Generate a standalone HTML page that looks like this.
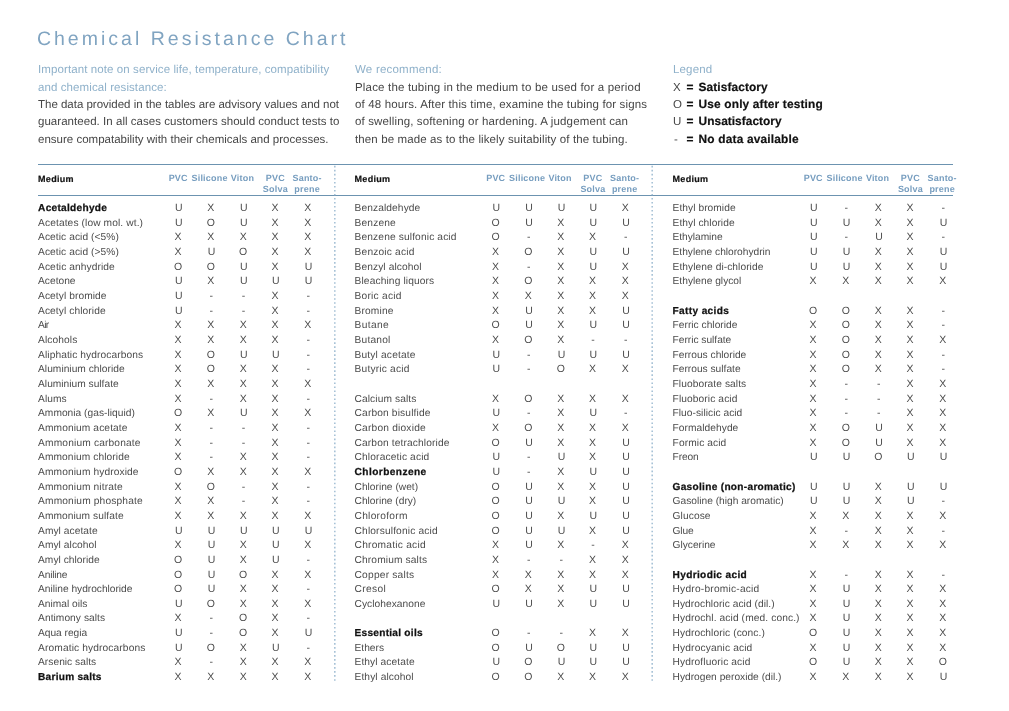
<!DOCTYPE html>
<html lang="en">
<head>
<meta charset="utf-8">
<title>Chemical Resistance Chart</title>
<style>
html,body{margin:0;padding:0;background:#fff;}
body{width:1009px;height:711px;position:relative;overflow:hidden;font-family:"Liberation Sans",Arial,Helvetica,sans-serif;color:#333;text-rendering:geometricPrecision;}
.a{position:absolute;white-space:nowrap;line-height:1;margin:0;padding:0;}
h1.a{font-weight:400;font-size:19.5px;color:#80a4c1;}
.p{font-size:11.5px;line-height:17.4px;color:#464646;}
.bl{color:#8fb1ca;}
.p b{font-weight:700;color:#111;-webkit-text-stroke:0.2px #111;}
.hl{position:absolute;left:38px;width:914.6px;height:1px;background:#6c93b0;}
.th{font-size:9.0px;font-weight:700;color:#769dbf;text-align:center;transform:translateX(-50%);line-height:11px;}
.md{font-size:9.0px;font-weight:700;color:#111;-webkit-text-stroke:0.2px #111;}
.r{font-size:10.2px;color:#4c4c4c;}
.rb{font-size:10.1px;font-weight:700;color:#111;-webkit-text-stroke:0.25px #111;}
.v{font-size:10.5px;color:#4e4e4e;transform:translateX(-50%);text-align:center;}
</style>
</head>
<body>
<h1 class="a" style="left:36.91px;top:30px;letter-spacing:3.011px">Chemical Resistance Chart</h1>
<div class="a p bl" style="left:38.00px;top:62px;font-size:11.5px;letter-spacing:0.096px">Important note on service life, temperature, compatibility</div>
<div class="a p bl" style="left:38.00px;top:80px;font-size:11.5px;letter-spacing:0.091px">and chemical resistance:</div>
<div class="a p " style="left:38.00px;top:97px;font-size:11.5px;letter-spacing:-0.012px">The data provided in the tables are advisory values and not</div>
<div class="a p " style="left:38.00px;top:114px;font-size:11.5px;letter-spacing:0.040px">guaranteed. In all cases customers should conduct tests to</div>
<div class="a p " style="left:38.00px;top:132px;font-size:11.5px;letter-spacing:0.006px">ensure compatability with their chemicals and processes.</div>
<div class="a p bl" style="left:355.00px;top:62px;font-size:11.5px;letter-spacing:0.216px">We recommend:</div>
<div class="a p " style="left:355.00px;top:80px;font-size:11.5px;letter-spacing:0.177px">Place the tubing in the medium to be used for a period</div>
<div class="a p " style="left:355.00px;top:97px;font-size:11.5px;letter-spacing:0.144px">of 48 hours. After this time, examine the tubing for signs</div>
<div class="a p " style="left:355.00px;top:114px;font-size:11.5px;letter-spacing:0.137px">of swelling, softening or hardening. A judgement can</div>
<div class="a p " style="left:355.00px;top:132px;font-size:11.5px;letter-spacing:0.112px">then be made as to the likely suitability of the tubing.</div>
<div class="a p bl" style="left:673.00px;top:62px;font-size:11.5px;letter-spacing:0.153px">Legend</div>
<div class="a p " style="left:673.00px;top:80px;font-size:11.5px;letter-spacing:0.000px">X</div><div class="a p " style="left:686.60px;top:79px;font-size:11.9px;letter-spacing:0.000px"><b>=</b></div><div class="a p " style="left:698.60px;top:79px;font-size:11.9px;letter-spacing:0.085px"><b>Satisfactory</b></div>
<div class="a p " style="left:673.00px;top:97px;font-size:11.5px;letter-spacing:0.000px">O</div><div class="a p " style="left:686.60px;top:96px;font-size:11.9px;letter-spacing:0.000px"><b>=</b></div><div class="a p " style="left:698.60px;top:96px;font-size:11.9px;letter-spacing:0.151px"><b>Use only after testing</b></div>
<div class="a p " style="left:673.00px;top:114px;font-size:11.5px;letter-spacing:0.000px">U</div><div class="a p " style="left:686.60px;top:113px;font-size:11.9px;letter-spacing:0.000px"><b>=</b></div><div class="a p " style="left:698.60px;top:113px;font-size:11.9px;letter-spacing:0.030px"><b>Unsatisfactory</b></div>
<div class="a p " style="left:674.00px;top:132px;font-size:11.5px;letter-spacing:0.000px">-</div><div class="a p " style="left:686.60px;top:131px;font-size:11.9px;letter-spacing:0.000px"><b>=</b></div><div class="a p " style="left:698.60px;top:131px;font-size:11.9px;letter-spacing:0.180px"><b>No data available</b></div>
<div class="hl" style="top:164px"></div><div class="hl" style="top:194.5px"></div>
<svg class="a" style="left:0;top:0" width="1009" height="711" viewBox="0 0 1009 711"><g stroke="#8aaec9" stroke-width="1.2" stroke-dasharray="1.6 2.41" fill="none"><line x1="334.85" y1="165.85" x2="334.85" y2="681.2"/><line x1="652.15" y1="165.85" x2="652.15" y2="681.2"/></g></svg>
<div class="a md" style="left:38.05px;top:175px;letter-spacing:0.291px">Medium</div><div class="a th" style="left:178.20px;top:173px;letter-spacing:0.200px">PVC</div><div class="a th" style="left:209.55px;top:173px;letter-spacing:0.200px">Silicone</div><div class="a th" style="left:242.50px;top:173px;letter-spacing:0.200px">Viton</div><div class="a th" style="left:275.37px;top:173px;letter-spacing:0.200px">PVC<br>Solva</div><div class="a th" style="left:307.10px;top:173px;letter-spacing:0.200px">Santo-<br>prene</div>
<div class="a md" style="left:354.55px;top:175px;letter-spacing:0.291px">Medium</div><div class="a th" style="left:495.75px;top:173px;letter-spacing:0.200px">PVC</div><div class="a th" style="left:527.10px;top:173px;letter-spacing:0.200px">Silicone</div><div class="a th" style="left:560.05px;top:173px;letter-spacing:0.200px">Viton</div><div class="a th" style="left:592.92px;top:173px;letter-spacing:0.200px">PVC<br>Solva</div><div class="a th" style="left:624.65px;top:173px;letter-spacing:0.200px">Santo-<br>prene</div>
<div class="a md" style="left:672.55px;top:175px;letter-spacing:0.291px">Medium</div><div class="a th" style="left:813.25px;top:173px;letter-spacing:0.200px">PVC</div><div class="a th" style="left:844.60px;top:173px;letter-spacing:0.200px">Silicone</div><div class="a th" style="left:877.55px;top:173px;letter-spacing:0.200px">Viton</div><div class="a th" style="left:910.42px;top:173px;letter-spacing:0.200px">PVC<br>Solva</div><div class="a th" style="left:942.15px;top:173px;letter-spacing:0.200px">Santo-<br>prene</div>
<div class="a rb" style="left:38.05px;top:204px;letter-spacing:0.297px">Acetaldehyde</div><div class="a v" style="left:178.70px;top:203px">U</div><div class="a v" style="left:210.75px;top:203px">X</div><div class="a v" style="left:243.90px;top:203px">U</div><div class="a v" style="left:275.07px;top:203px">X</div><div class="a v" style="left:307.80px;top:203px">X</div>
<div class="a r" style="left:38.05px;top:219px;letter-spacing:0.113px">Acetates (low mol. wt.)</div><div class="a v" style="left:178.70px;top:218px">U</div><div class="a v" style="left:210.75px;top:218px">O</div><div class="a v" style="left:243.90px;top:218px">U</div><div class="a v" style="left:275.07px;top:218px">X</div><div class="a v" style="left:307.80px;top:218px">X</div>
<div class="a r" style="left:38.05px;top:233px;letter-spacing:0.077px">Acetic acid (&lt;5%)</div><div class="a v" style="left:178.00px;top:232px">X</div><div class="a v" style="left:210.75px;top:232px">X</div><div class="a v" style="left:243.20px;top:232px">X</div><div class="a v" style="left:275.07px;top:232px">X</div><div class="a v" style="left:307.80px;top:232px">X</div>
<div class="a r" style="left:38.05px;top:248px;letter-spacing:0.077px">Acetic acid (&gt;5%)</div><div class="a v" style="left:178.00px;top:247px">X</div><div class="a v" style="left:211.45px;top:247px">U</div><div class="a v" style="left:243.20px;top:247px">O</div><div class="a v" style="left:275.07px;top:247px">X</div><div class="a v" style="left:307.80px;top:247px">X</div>
<div class="a r" style="left:38.05px;top:263px;letter-spacing:0.093px">Acetic anhydride</div><div class="a v" style="left:178.00px;top:262px">O</div><div class="a v" style="left:210.75px;top:262px">O</div><div class="a v" style="left:243.90px;top:262px">U</div><div class="a v" style="left:275.07px;top:262px">X</div><div class="a v" style="left:308.50px;top:262px">U</div>
<div class="a r" style="left:38.05px;top:277px;letter-spacing:0.012px">Acetone</div><div class="a v" style="left:178.70px;top:276px">U</div><div class="a v" style="left:210.75px;top:276px">X</div><div class="a v" style="left:243.90px;top:276px">U</div><div class="a v" style="left:275.77px;top:276px">U</div><div class="a v" style="left:308.50px;top:276px">U</div>
<div class="a r" style="left:38.05px;top:292px;letter-spacing:0.080px">Acetyl bromide</div><div class="a v" style="left:178.70px;top:291px">U</div><div class="a v" style="left:211.15px;top:291px">-</div><div class="a v" style="left:243.60px;top:291px">-</div><div class="a v" style="left:275.07px;top:291px">X</div><div class="a v" style="left:308.20px;top:291px">-</div>
<div class="a r" style="left:38.05px;top:307px;letter-spacing:0.091px">Acetyl chloride</div><div class="a v" style="left:178.70px;top:306px">U</div><div class="a v" style="left:211.15px;top:306px">-</div><div class="a v" style="left:243.60px;top:306px">-</div><div class="a v" style="left:275.07px;top:306px">X</div><div class="a v" style="left:308.20px;top:306px">-</div>
<div class="a r" style="left:38.05px;top:321px;letter-spacing:-0.623px">Air</div><div class="a v" style="left:178.00px;top:320px">X</div><div class="a v" style="left:210.75px;top:320px">X</div><div class="a v" style="left:243.20px;top:320px">X</div><div class="a v" style="left:275.07px;top:320px">X</div><div class="a v" style="left:307.80px;top:320px">X</div>
<div class="a r" style="left:38.05px;top:336px;letter-spacing:0.109px">Alcohols</div><div class="a v" style="left:178.00px;top:335px">X</div><div class="a v" style="left:210.75px;top:335px">X</div><div class="a v" style="left:243.20px;top:335px">X</div><div class="a v" style="left:275.07px;top:335px">X</div><div class="a v" style="left:308.20px;top:335px">-</div>
<div class="a r" style="left:38.05px;top:351px;letter-spacing:0.092px">Aliphatic hydrocarbons</div><div class="a v" style="left:178.00px;top:350px">X</div><div class="a v" style="left:210.75px;top:350px">O</div><div class="a v" style="left:243.90px;top:350px">U</div><div class="a v" style="left:275.77px;top:350px">U</div><div class="a v" style="left:308.20px;top:350px">-</div>
<div class="a r" style="left:38.05px;top:365px;letter-spacing:0.031px">Aluminium chloride</div><div class="a v" style="left:178.00px;top:364px">X</div><div class="a v" style="left:210.75px;top:364px">O</div><div class="a v" style="left:243.20px;top:364px">X</div><div class="a v" style="left:275.07px;top:364px">X</div><div class="a v" style="left:308.20px;top:364px">-</div>
<div class="a r" style="left:38.05px;top:380px;letter-spacing:0.013px">Aluminium sulfate</div><div class="a v" style="left:178.00px;top:379px">X</div><div class="a v" style="left:210.75px;top:379px">X</div><div class="a v" style="left:243.20px;top:379px">X</div><div class="a v" style="left:275.07px;top:379px">X</div><div class="a v" style="left:307.80px;top:379px">X</div>
<div class="a r" style="left:38.05px;top:395px;letter-spacing:0.045px">Alums</div><div class="a v" style="left:178.00px;top:394px">X</div><div class="a v" style="left:211.15px;top:394px">-</div><div class="a v" style="left:243.20px;top:394px">X</div><div class="a v" style="left:275.07px;top:394px">X</div><div class="a v" style="left:308.20px;top:394px">-</div>
<div class="a r" style="left:38.05px;top:409px;letter-spacing:0.027px">Ammonia (gas-liquid)</div><div class="a v" style="left:178.00px;top:408px">O</div><div class="a v" style="left:210.75px;top:408px">X</div><div class="a v" style="left:243.90px;top:408px">U</div><div class="a v" style="left:275.07px;top:408px">X</div><div class="a v" style="left:307.80px;top:408px">X</div>
<div class="a r" style="left:38.05px;top:424px;letter-spacing:0.109px">Ammonium acetate</div><div class="a v" style="left:178.00px;top:423px">X</div><div class="a v" style="left:211.15px;top:423px">-</div><div class="a v" style="left:243.60px;top:423px">-</div><div class="a v" style="left:275.07px;top:423px">X</div><div class="a v" style="left:308.20px;top:423px">-</div>
<div class="a r" style="left:38.05px;top:439px;letter-spacing:0.166px">Ammonium carbonate</div><div class="a v" style="left:178.00px;top:438px">X</div><div class="a v" style="left:211.15px;top:438px">-</div><div class="a v" style="left:243.60px;top:438px">-</div><div class="a v" style="left:275.07px;top:438px">X</div><div class="a v" style="left:308.20px;top:438px">-</div>
<div class="a r" style="left:38.05px;top:453px;letter-spacing:0.098px">Ammonium chloride</div><div class="a v" style="left:178.00px;top:452px">X</div><div class="a v" style="left:211.15px;top:452px">-</div><div class="a v" style="left:243.20px;top:452px">X</div><div class="a v" style="left:275.07px;top:452px">X</div><div class="a v" style="left:308.20px;top:452px">-</div>
<div class="a r" style="left:38.05px;top:468px;letter-spacing:0.115px">Ammonium hydroxide</div><div class="a v" style="left:178.00px;top:467px">O</div><div class="a v" style="left:210.75px;top:467px">X</div><div class="a v" style="left:243.20px;top:467px">X</div><div class="a v" style="left:275.07px;top:467px">X</div><div class="a v" style="left:307.80px;top:467px">X</div>
<div class="a r" style="left:38.05px;top:483px;letter-spacing:0.123px">Ammonium nitrate</div><div class="a v" style="left:178.00px;top:482px">X</div><div class="a v" style="left:210.75px;top:482px">O</div><div class="a v" style="left:243.60px;top:482px">-</div><div class="a v" style="left:275.07px;top:482px">X</div><div class="a v" style="left:308.20px;top:482px">-</div>
<div class="a r" style="left:38.05px;top:497px;letter-spacing:0.156px">Ammonium phosphate</div><div class="a v" style="left:178.00px;top:496px">X</div><div class="a v" style="left:210.75px;top:496px">X</div><div class="a v" style="left:243.60px;top:496px">-</div><div class="a v" style="left:275.07px;top:496px">X</div><div class="a v" style="left:308.20px;top:496px">-</div>
<div class="a r" style="left:38.05px;top:512px;letter-spacing:0.076px">Ammonium sulfate</div><div class="a v" style="left:178.00px;top:511px">X</div><div class="a v" style="left:210.75px;top:511px">X</div><div class="a v" style="left:243.20px;top:511px">X</div><div class="a v" style="left:275.07px;top:511px">X</div><div class="a v" style="left:307.80px;top:511px">X</div>
<div class="a r" style="left:38.05px;top:527px;letter-spacing:0.058px">Amyl acetate</div><div class="a v" style="left:178.70px;top:526px">U</div><div class="a v" style="left:211.45px;top:526px">U</div><div class="a v" style="left:243.90px;top:526px">U</div><div class="a v" style="left:275.77px;top:526px">U</div><div class="a v" style="left:308.50px;top:526px">U</div>
<div class="a r" style="left:38.05px;top:541px;letter-spacing:0.064px">Amyl alcohol</div><div class="a v" style="left:178.00px;top:540px">X</div><div class="a v" style="left:211.45px;top:540px">U</div><div class="a v" style="left:243.20px;top:540px">X</div><div class="a v" style="left:275.77px;top:540px">U</div><div class="a v" style="left:307.80px;top:540px">X</div>
<div class="a r" style="left:38.05px;top:556px;letter-spacing:0.032px">Amyl chloride</div><div class="a v" style="left:178.00px;top:555px">O</div><div class="a v" style="left:211.45px;top:555px">U</div><div class="a v" style="left:243.20px;top:555px">X</div><div class="a v" style="left:275.77px;top:555px">U</div><div class="a v" style="left:308.20px;top:555px">-</div>
<div class="a r" style="left:38.05px;top:571px;letter-spacing:-0.186px">Aniline</div><div class="a v" style="left:178.00px;top:570px">O</div><div class="a v" style="left:211.45px;top:570px">U</div><div class="a v" style="left:243.20px;top:570px">O</div><div class="a v" style="left:275.07px;top:570px">X</div><div class="a v" style="left:307.80px;top:570px">X</div>
<div class="a r" style="left:38.05px;top:585px;letter-spacing:-0.009px">Aniline hydrochloride</div><div class="a v" style="left:178.00px;top:584px">O</div><div class="a v" style="left:211.45px;top:584px">U</div><div class="a v" style="left:243.20px;top:584px">X</div><div class="a v" style="left:275.07px;top:584px">X</div><div class="a v" style="left:308.20px;top:584px">-</div>
<div class="a r" style="left:38.05px;top:600px;letter-spacing:0.000px">Animal oils</div><div class="a v" style="left:178.70px;top:599px">U</div><div class="a v" style="left:210.75px;top:599px">O</div><div class="a v" style="left:243.20px;top:599px">X</div><div class="a v" style="left:275.07px;top:599px">X</div><div class="a v" style="left:307.80px;top:599px">X</div>
<div class="a r" style="left:38.05px;top:614px;letter-spacing:0.061px">Antimony salts</div><div class="a v" style="left:178.00px;top:613px">X</div><div class="a v" style="left:211.15px;top:613px">-</div><div class="a v" style="left:243.20px;top:613px">O</div><div class="a v" style="left:275.07px;top:613px">X</div><div class="a v" style="left:308.20px;top:613px">-</div>
<div class="a r" style="left:38.05px;top:629px;letter-spacing:-0.021px">Aqua regia</div><div class="a v" style="left:178.70px;top:628px">U</div><div class="a v" style="left:211.15px;top:628px">-</div><div class="a v" style="left:243.20px;top:628px">O</div><div class="a v" style="left:275.07px;top:628px">X</div><div class="a v" style="left:308.50px;top:628px">U</div>
<div class="a r" style="left:38.05px;top:644px;letter-spacing:0.127px">Aromatic hydrocarbons</div><div class="a v" style="left:178.70px;top:643px">U</div><div class="a v" style="left:210.75px;top:643px">O</div><div class="a v" style="left:243.20px;top:643px">X</div><div class="a v" style="left:275.77px;top:643px">U</div><div class="a v" style="left:308.20px;top:643px">-</div>
<div class="a r" style="left:38.05px;top:658px;letter-spacing:0.033px">Arsenic salts</div><div class="a v" style="left:178.00px;top:657px">X</div><div class="a v" style="left:211.15px;top:657px">-</div><div class="a v" style="left:243.20px;top:657px">X</div><div class="a v" style="left:275.07px;top:657px">X</div><div class="a v" style="left:307.80px;top:657px">X</div>
<div class="a rb" style="left:38.05px;top:673px;letter-spacing:0.258px">Barium salts</div><div class="a v" style="left:178.00px;top:672px">X</div><div class="a v" style="left:210.75px;top:672px">X</div><div class="a v" style="left:243.20px;top:672px">X</div><div class="a v" style="left:275.07px;top:672px">X</div><div class="a v" style="left:307.80px;top:672px">X</div>
<div class="a r" style="left:354.55px;top:204px;letter-spacing:0.105px">Benzaldehyde</div><div class="a v" style="left:496.25px;top:203px">U</div><div class="a v" style="left:529.00px;top:203px">U</div><div class="a v" style="left:561.45px;top:203px">U</div><div class="a v" style="left:593.32px;top:203px">U</div><div class="a v" style="left:625.35px;top:203px">X</div>
<div class="a r" style="left:354.55px;top:219px;letter-spacing:0.156px">Benzene</div><div class="a v" style="left:495.55px;top:218px">O</div><div class="a v" style="left:529.00px;top:218px">U</div><div class="a v" style="left:560.75px;top:218px">X</div><div class="a v" style="left:593.32px;top:218px">U</div><div class="a v" style="left:626.05px;top:218px">U</div>
<div class="a r" style="left:354.55px;top:233px;letter-spacing:0.139px">Benzene sulfonic acid</div><div class="a v" style="left:495.55px;top:232px">O</div><div class="a v" style="left:528.70px;top:232px">-</div><div class="a v" style="left:560.75px;top:232px">X</div><div class="a v" style="left:592.62px;top:232px">X</div><div class="a v" style="left:625.75px;top:232px">-</div>
<div class="a r" style="left:354.55px;top:248px;letter-spacing:0.188px">Benzoic acid</div><div class="a v" style="left:495.55px;top:247px">X</div><div class="a v" style="left:528.30px;top:247px">O</div><div class="a v" style="left:560.75px;top:247px">X</div><div class="a v" style="left:593.32px;top:247px">U</div><div class="a v" style="left:626.05px;top:247px">U</div>
<div class="a r" style="left:354.55px;top:263px;letter-spacing:0.097px">Benzyl alcohol</div><div class="a v" style="left:495.55px;top:262px">X</div><div class="a v" style="left:528.70px;top:262px">-</div><div class="a v" style="left:560.75px;top:262px">X</div><div class="a v" style="left:593.32px;top:262px">U</div><div class="a v" style="left:625.35px;top:262px">X</div>
<div class="a r" style="left:354.55px;top:277px;letter-spacing:0.127px">Bleaching liquors</div><div class="a v" style="left:495.55px;top:276px">X</div><div class="a v" style="left:528.30px;top:276px">O</div><div class="a v" style="left:560.75px;top:276px">X</div><div class="a v" style="left:592.62px;top:276px">X</div><div class="a v" style="left:625.35px;top:276px">X</div>
<div class="a r" style="left:354.55px;top:292px;letter-spacing:0.236px">Boric acid</div><div class="a v" style="left:495.55px;top:291px">X</div><div class="a v" style="left:528.30px;top:291px">X</div><div class="a v" style="left:560.75px;top:291px">X</div><div class="a v" style="left:592.62px;top:291px">X</div><div class="a v" style="left:625.35px;top:291px">X</div>
<div class="a r" style="left:354.55px;top:307px;letter-spacing:0.154px">Bromine</div><div class="a v" style="left:495.55px;top:306px">X</div><div class="a v" style="left:529.00px;top:306px">U</div><div class="a v" style="left:560.75px;top:306px">X</div><div class="a v" style="left:592.62px;top:306px">X</div><div class="a v" style="left:626.05px;top:306px">U</div>
<div class="a r" style="left:354.55px;top:321px;letter-spacing:0.355px">Butane</div><div class="a v" style="left:495.55px;top:320px">O</div><div class="a v" style="left:529.00px;top:320px">U</div><div class="a v" style="left:560.75px;top:320px">X</div><div class="a v" style="left:593.32px;top:320px">U</div><div class="a v" style="left:626.05px;top:320px">U</div>
<div class="a r" style="left:354.55px;top:336px;letter-spacing:0.206px">Butanol</div><div class="a v" style="left:495.55px;top:335px">X</div><div class="a v" style="left:528.30px;top:335px">O</div><div class="a v" style="left:560.75px;top:335px">X</div><div class="a v" style="left:593.02px;top:335px">-</div><div class="a v" style="left:625.75px;top:335px">-</div>
<div class="a r" style="left:354.55px;top:351px;letter-spacing:0.169px">Butyl acetate</div><div class="a v" style="left:496.25px;top:350px">U</div><div class="a v" style="left:528.70px;top:350px">-</div><div class="a v" style="left:561.45px;top:350px">U</div><div class="a v" style="left:593.32px;top:350px">U</div><div class="a v" style="left:626.05px;top:350px">U</div>
<div class="a r" style="left:354.55px;top:365px;letter-spacing:0.199px">Butyric acid</div><div class="a v" style="left:496.25px;top:364px">U</div><div class="a v" style="left:528.70px;top:364px">-</div><div class="a v" style="left:560.75px;top:364px">O</div><div class="a v" style="left:592.62px;top:364px">X</div><div class="a v" style="left:625.35px;top:364px">X</div>
<div class="a r" style="left:354.55px;top:395px;letter-spacing:0.097px">Calcium salts</div><div class="a v" style="left:495.55px;top:394px">X</div><div class="a v" style="left:528.30px;top:394px">O</div><div class="a v" style="left:560.75px;top:394px">X</div><div class="a v" style="left:592.62px;top:394px">X</div><div class="a v" style="left:625.35px;top:394px">X</div>
<div class="a r" style="left:354.55px;top:409px;letter-spacing:0.153px">Carbon bisulfide</div><div class="a v" style="left:496.25px;top:408px">U</div><div class="a v" style="left:528.70px;top:408px">-</div><div class="a v" style="left:560.75px;top:408px">X</div><div class="a v" style="left:593.32px;top:408px">U</div><div class="a v" style="left:625.75px;top:408px">-</div>
<div class="a r" style="left:354.55px;top:424px;letter-spacing:0.199px">Carbon dioxide</div><div class="a v" style="left:495.55px;top:423px">X</div><div class="a v" style="left:528.30px;top:423px">O</div><div class="a v" style="left:560.75px;top:423px">X</div><div class="a v" style="left:592.62px;top:423px">X</div><div class="a v" style="left:625.35px;top:423px">X</div>
<div class="a r" style="left:354.55px;top:439px;letter-spacing:0.136px">Carbon tetrachloride</div><div class="a v" style="left:495.55px;top:438px">O</div><div class="a v" style="left:529.00px;top:438px">U</div><div class="a v" style="left:560.75px;top:438px">X</div><div class="a v" style="left:592.62px;top:438px">X</div><div class="a v" style="left:626.05px;top:438px">U</div>
<div class="a r" style="left:354.55px;top:453px;letter-spacing:0.149px">Chloracetic acid</div><div class="a v" style="left:496.25px;top:452px">U</div><div class="a v" style="left:528.70px;top:452px">-</div><div class="a v" style="left:561.45px;top:452px">U</div><div class="a v" style="left:592.62px;top:452px">X</div><div class="a v" style="left:626.05px;top:452px">U</div>
<div class="a rb" style="left:354.55px;top:468px;letter-spacing:0.447px">Chlorbenzene</div><div class="a v" style="left:496.25px;top:467px">U</div><div class="a v" style="left:528.70px;top:467px">-</div><div class="a v" style="left:560.75px;top:467px">X</div><div class="a v" style="left:593.32px;top:467px">U</div><div class="a v" style="left:626.05px;top:467px">U</div>
<div class="a r" style="left:354.55px;top:483px;letter-spacing:0.007px">Chlorine (wet)</div><div class="a v" style="left:495.55px;top:482px">O</div><div class="a v" style="left:529.00px;top:482px">U</div><div class="a v" style="left:560.75px;top:482px">X</div><div class="a v" style="left:592.62px;top:482px">X</div><div class="a v" style="left:626.05px;top:482px">U</div>
<div class="a r" style="left:354.55px;top:497px;letter-spacing:-0.000px">Chlorine (dry)</div><div class="a v" style="left:495.55px;top:496px">O</div><div class="a v" style="left:529.00px;top:496px">U</div><div class="a v" style="left:561.45px;top:496px">U</div><div class="a v" style="left:592.62px;top:496px">X</div><div class="a v" style="left:626.05px;top:496px">U</div>
<div class="a r" style="left:354.55px;top:512px;letter-spacing:0.275px">Chloroform</div><div class="a v" style="left:495.55px;top:511px">O</div><div class="a v" style="left:529.00px;top:511px">U</div><div class="a v" style="left:560.75px;top:511px">X</div><div class="a v" style="left:593.32px;top:511px">U</div><div class="a v" style="left:626.05px;top:511px">U</div>
<div class="a r" style="left:354.55px;top:527px;letter-spacing:0.153px">Chlorsulfonic acid</div><div class="a v" style="left:495.55px;top:526px">O</div><div class="a v" style="left:529.00px;top:526px">U</div><div class="a v" style="left:561.45px;top:526px">U</div><div class="a v" style="left:592.62px;top:526px">X</div><div class="a v" style="left:626.05px;top:526px">U</div>
<div class="a r" style="left:354.55px;top:541px;letter-spacing:0.237px">Chromatic acid</div><div class="a v" style="left:495.55px;top:540px">X</div><div class="a v" style="left:529.00px;top:540px">U</div><div class="a v" style="left:560.75px;top:540px">X</div><div class="a v" style="left:593.02px;top:540px">-</div><div class="a v" style="left:625.35px;top:540px">X</div>
<div class="a r" style="left:354.55px;top:556px;letter-spacing:0.136px">Chromium salts</div><div class="a v" style="left:495.55px;top:555px">X</div><div class="a v" style="left:528.70px;top:555px">-</div><div class="a v" style="left:561.15px;top:555px">-</div><div class="a v" style="left:592.62px;top:555px">X</div><div class="a v" style="left:625.35px;top:555px">X</div>
<div class="a r" style="left:354.55px;top:571px;letter-spacing:0.214px">Copper salts</div><div class="a v" style="left:495.55px;top:570px">X</div><div class="a v" style="left:528.30px;top:570px">X</div><div class="a v" style="left:560.75px;top:570px">X</div><div class="a v" style="left:592.62px;top:570px">X</div><div class="a v" style="left:625.35px;top:570px">X</div>
<div class="a r" style="left:354.55px;top:585px;letter-spacing:0.331px">Cresol</div><div class="a v" style="left:495.55px;top:584px">O</div><div class="a v" style="left:528.30px;top:584px">X</div><div class="a v" style="left:560.75px;top:584px">X</div><div class="a v" style="left:593.32px;top:584px">U</div><div class="a v" style="left:626.05px;top:584px">U</div>
<div class="a r" style="left:354.55px;top:600px;letter-spacing:0.049px">Cyclohexanone</div><div class="a v" style="left:496.25px;top:599px">U</div><div class="a v" style="left:529.00px;top:599px">U</div><div class="a v" style="left:560.75px;top:599px">X</div><div class="a v" style="left:593.32px;top:599px">U</div><div class="a v" style="left:626.05px;top:599px">U</div>
<div class="a rb" style="left:354.55px;top:629px;letter-spacing:0.270px">Essential oils</div><div class="a v" style="left:495.55px;top:628px">O</div><div class="a v" style="left:528.70px;top:628px">-</div><div class="a v" style="left:561.15px;top:628px">-</div><div class="a v" style="left:592.62px;top:628px">X</div><div class="a v" style="left:625.35px;top:628px">X</div>
<div class="a r" style="left:354.55px;top:644px;letter-spacing:0.008px">Ethers</div><div class="a v" style="left:495.55px;top:643px">O</div><div class="a v" style="left:529.00px;top:643px">U</div><div class="a v" style="left:560.75px;top:643px">O</div><div class="a v" style="left:593.32px;top:643px">U</div><div class="a v" style="left:626.05px;top:643px">U</div>
<div class="a r" style="left:354.55px;top:658px;letter-spacing:0.094px">Ethyl acetate</div><div class="a v" style="left:496.25px;top:657px">U</div><div class="a v" style="left:528.30px;top:657px">O</div><div class="a v" style="left:561.45px;top:657px">U</div><div class="a v" style="left:593.32px;top:657px">U</div><div class="a v" style="left:626.05px;top:657px">U</div>
<div class="a r" style="left:354.55px;top:673px;letter-spacing:0.100px">Ethyl alcohol</div><div class="a v" style="left:495.55px;top:672px">O</div><div class="a v" style="left:528.30px;top:672px">O</div><div class="a v" style="left:560.75px;top:672px">X</div><div class="a v" style="left:592.62px;top:672px">X</div><div class="a v" style="left:625.35px;top:672px">X</div>
<div class="a r" style="left:672.55px;top:204px;letter-spacing:0.062px">Ethyl bromide</div><div class="a v" style="left:813.75px;top:203px">U</div><div class="a v" style="left:846.20px;top:203px">-</div><div class="a v" style="left:878.25px;top:203px">X</div><div class="a v" style="left:910.12px;top:203px">X</div><div class="a v" style="left:943.25px;top:203px">-</div>
<div class="a r" style="left:672.55px;top:219px;letter-spacing:0.067px">Ethyl chloride</div><div class="a v" style="left:813.75px;top:218px">U</div><div class="a v" style="left:846.50px;top:218px">U</div><div class="a v" style="left:878.25px;top:218px">X</div><div class="a v" style="left:910.12px;top:218px">X</div><div class="a v" style="left:943.55px;top:218px">U</div>
<div class="a r" style="left:672.55px;top:233px;letter-spacing:-0.039px">Ethylamine</div><div class="a v" style="left:813.75px;top:232px">U</div><div class="a v" style="left:846.20px;top:232px">-</div><div class="a v" style="left:878.95px;top:232px">U</div><div class="a v" style="left:910.12px;top:232px">X</div><div class="a v" style="left:943.25px;top:232px">-</div>
<div class="a r" style="left:672.55px;top:248px;letter-spacing:0.001px">Ethylene chlorohydrin</div><div class="a v" style="left:813.75px;top:247px">U</div><div class="a v" style="left:846.50px;top:247px">U</div><div class="a v" style="left:878.25px;top:247px">X</div><div class="a v" style="left:910.12px;top:247px">X</div><div class="a v" style="left:943.55px;top:247px">U</div>
<div class="a r" style="left:672.55px;top:263px;letter-spacing:0.069px">Ethylene di-chloride</div><div class="a v" style="left:813.75px;top:262px">U</div><div class="a v" style="left:846.50px;top:262px">U</div><div class="a v" style="left:878.25px;top:262px">X</div><div class="a v" style="left:910.12px;top:262px">X</div><div class="a v" style="left:943.55px;top:262px">U</div>
<div class="a r" style="left:672.55px;top:277px;letter-spacing:0.016px">Ethylene glycol</div><div class="a v" style="left:813.05px;top:276px">X</div><div class="a v" style="left:845.80px;top:276px">X</div><div class="a v" style="left:878.25px;top:276px">X</div><div class="a v" style="left:910.12px;top:276px">X</div><div class="a v" style="left:942.85px;top:276px">X</div>
<div class="a rb" style="left:672.55px;top:307px;letter-spacing:0.360px">Fatty acids</div><div class="a v" style="left:813.05px;top:306px">O</div><div class="a v" style="left:845.80px;top:306px">O</div><div class="a v" style="left:878.25px;top:306px">X</div><div class="a v" style="left:910.12px;top:306px">X</div><div class="a v" style="left:943.25px;top:306px">-</div>
<div class="a r" style="left:672.55px;top:321px;letter-spacing:0.020px">Ferric chloride</div><div class="a v" style="left:813.05px;top:320px">X</div><div class="a v" style="left:845.80px;top:320px">O</div><div class="a v" style="left:878.25px;top:320px">X</div><div class="a v" style="left:910.12px;top:320px">X</div><div class="a v" style="left:943.25px;top:320px">-</div>
<div class="a r" style="left:672.55px;top:336px;letter-spacing:-0.011px">Ferric sulfate</div><div class="a v" style="left:813.05px;top:335px">X</div><div class="a v" style="left:845.80px;top:335px">O</div><div class="a v" style="left:878.25px;top:335px">X</div><div class="a v" style="left:910.12px;top:335px">X</div><div class="a v" style="left:942.85px;top:335px">X</div>
<div class="a r" style="left:672.55px;top:351px;letter-spacing:0.007px">Ferrous chloride</div><div class="a v" style="left:813.05px;top:350px">X</div><div class="a v" style="left:845.80px;top:350px">O</div><div class="a v" style="left:878.25px;top:350px">X</div><div class="a v" style="left:910.12px;top:350px">X</div><div class="a v" style="left:943.25px;top:350px">-</div>
<div class="a r" style="left:672.55px;top:365px;letter-spacing:0.005px">Ferrous sulfate</div><div class="a v" style="left:813.05px;top:364px">X</div><div class="a v" style="left:845.80px;top:364px">O</div><div class="a v" style="left:878.25px;top:364px">X</div><div class="a v" style="left:910.12px;top:364px">X</div><div class="a v" style="left:943.25px;top:364px">-</div>
<div class="a r" style="left:672.55px;top:380px;letter-spacing:0.076px">Fluoborate salts</div><div class="a v" style="left:813.05px;top:379px">X</div><div class="a v" style="left:846.20px;top:379px">-</div><div class="a v" style="left:878.65px;top:379px">-</div><div class="a v" style="left:910.12px;top:379px">X</div><div class="a v" style="left:942.85px;top:379px">X</div>
<div class="a r" style="left:672.55px;top:395px;letter-spacing:0.108px">Fluoboric acid</div><div class="a v" style="left:813.05px;top:394px">X</div><div class="a v" style="left:846.20px;top:394px">-</div><div class="a v" style="left:878.65px;top:394px">-</div><div class="a v" style="left:910.12px;top:394px">X</div><div class="a v" style="left:942.85px;top:394px">X</div>
<div class="a r" style="left:672.55px;top:409px;letter-spacing:0.041px">Fluo-silicic acid</div><div class="a v" style="left:813.05px;top:408px">X</div><div class="a v" style="left:846.20px;top:408px">-</div><div class="a v" style="left:878.65px;top:408px">-</div><div class="a v" style="left:910.12px;top:408px">X</div><div class="a v" style="left:942.85px;top:408px">X</div>
<div class="a r" style="left:672.55px;top:424px;letter-spacing:0.055px">Formaldehyde</div><div class="a v" style="left:813.05px;top:423px">X</div><div class="a v" style="left:845.80px;top:423px">O</div><div class="a v" style="left:878.95px;top:423px">U</div><div class="a v" style="left:910.12px;top:423px">X</div><div class="a v" style="left:942.85px;top:423px">X</div>
<div class="a r" style="left:672.55px;top:439px;letter-spacing:0.110px">Formic acid</div><div class="a v" style="left:813.05px;top:438px">X</div><div class="a v" style="left:845.80px;top:438px">O</div><div class="a v" style="left:878.95px;top:438px">U</div><div class="a v" style="left:910.12px;top:438px">X</div><div class="a v" style="left:942.85px;top:438px">X</div>
<div class="a r" style="left:672.55px;top:453px;letter-spacing:-0.133px">Freon</div><div class="a v" style="left:813.75px;top:452px">U</div><div class="a v" style="left:846.50px;top:452px">U</div><div class="a v" style="left:878.25px;top:452px">O</div><div class="a v" style="left:910.82px;top:452px">U</div><div class="a v" style="left:943.55px;top:452px">U</div>
<div class="a rb" style="left:672.55px;top:483px;letter-spacing:0.304px">Gasoline (non-aromatic)</div><div class="a v" style="left:813.75px;top:482px">U</div><div class="a v" style="left:846.50px;top:482px">U</div><div class="a v" style="left:878.25px;top:482px">X</div><div class="a v" style="left:910.82px;top:482px">U</div><div class="a v" style="left:943.55px;top:482px">U</div>
<div class="a r" style="left:672.55px;top:497px;letter-spacing:0.007px">Gasoline (high aromatic)</div><div class="a v" style="left:813.75px;top:496px">U</div><div class="a v" style="left:846.50px;top:496px">U</div><div class="a v" style="left:878.25px;top:496px">X</div><div class="a v" style="left:910.82px;top:496px">U</div><div class="a v" style="left:943.25px;top:496px">-</div>
<div class="a r" style="left:672.55px;top:512px;letter-spacing:0.097px">Glucose</div><div class="a v" style="left:813.05px;top:511px">X</div><div class="a v" style="left:845.80px;top:511px">X</div><div class="a v" style="left:878.25px;top:511px">X</div><div class="a v" style="left:910.12px;top:511px">X</div><div class="a v" style="left:942.85px;top:511px">X</div>
<div class="a r" style="left:672.55px;top:527px;letter-spacing:-0.148px">Glue</div><div class="a v" style="left:813.05px;top:526px">X</div><div class="a v" style="left:846.20px;top:526px">-</div><div class="a v" style="left:878.25px;top:526px">X</div><div class="a v" style="left:910.12px;top:526px">X</div><div class="a v" style="left:943.25px;top:526px">-</div>
<div class="a r" style="left:672.55px;top:541px;letter-spacing:-0.010px">Glycerine</div><div class="a v" style="left:813.05px;top:540px">X</div><div class="a v" style="left:845.80px;top:540px">X</div><div class="a v" style="left:878.25px;top:540px">X</div><div class="a v" style="left:910.12px;top:540px">X</div><div class="a v" style="left:942.85px;top:540px">X</div>
<div class="a rb" style="left:672.55px;top:571px;letter-spacing:0.355px">Hydriodic acid</div><div class="a v" style="left:813.05px;top:570px">X</div><div class="a v" style="left:846.20px;top:570px">-</div><div class="a v" style="left:878.25px;top:570px">X</div><div class="a v" style="left:910.12px;top:570px">X</div><div class="a v" style="left:943.25px;top:570px">-</div>
<div class="a r" style="left:672.55px;top:585px;letter-spacing:0.218px">Hydro-bromic-acid</div><div class="a v" style="left:813.05px;top:584px">X</div><div class="a v" style="left:846.50px;top:584px">U</div><div class="a v" style="left:878.25px;top:584px">X</div><div class="a v" style="left:910.12px;top:584px">X</div><div class="a v" style="left:942.85px;top:584px">X</div>
<div class="a r" style="left:672.55px;top:600px;letter-spacing:0.056px">Hydrochloric acid (dil.)</div><div class="a v" style="left:813.05px;top:599px">X</div><div class="a v" style="left:846.50px;top:599px">U</div><div class="a v" style="left:878.25px;top:599px">X</div><div class="a v" style="left:910.12px;top:599px">X</div><div class="a v" style="left:942.85px;top:599px">X</div>
<div class="a r" style="left:672.55px;top:614px;letter-spacing:0.113px">Hydrochl. acid (med. conc.)</div><div class="a v" style="left:813.05px;top:613px">X</div><div class="a v" style="left:846.50px;top:613px">U</div><div class="a v" style="left:878.25px;top:613px">X</div><div class="a v" style="left:910.12px;top:613px">X</div><div class="a v" style="left:942.85px;top:613px">X</div>
<div class="a r" style="left:672.55px;top:629px;letter-spacing:0.089px">Hydrochloric (conc.)</div><div class="a v" style="left:813.05px;top:628px">O</div><div class="a v" style="left:846.50px;top:628px">U</div><div class="a v" style="left:878.25px;top:628px">X</div><div class="a v" style="left:910.12px;top:628px">X</div><div class="a v" style="left:942.85px;top:628px">X</div>
<div class="a r" style="left:672.55px;top:644px;letter-spacing:0.143px">Hydrocyanic acid</div><div class="a v" style="left:813.05px;top:643px">X</div><div class="a v" style="left:846.50px;top:643px">U</div><div class="a v" style="left:878.25px;top:643px">X</div><div class="a v" style="left:910.12px;top:643px">X</div><div class="a v" style="left:942.85px;top:643px">X</div>
<div class="a r" style="left:672.55px;top:658px;letter-spacing:0.121px">Hydrofluoric acid</div><div class="a v" style="left:813.05px;top:657px">O</div><div class="a v" style="left:846.50px;top:657px">U</div><div class="a v" style="left:878.25px;top:657px">X</div><div class="a v" style="left:910.12px;top:657px">X</div><div class="a v" style="left:942.85px;top:657px">O</div>
<div class="a r" style="left:672.55px;top:673px;letter-spacing:0.010px">Hydrogen peroxide (dil.)</div><div class="a v" style="left:813.05px;top:672px">X</div><div class="a v" style="left:845.80px;top:672px">X</div><div class="a v" style="left:878.25px;top:672px">X</div><div class="a v" style="left:910.12px;top:672px">X</div><div class="a v" style="left:943.55px;top:672px">U</div>
</body>
</html>
